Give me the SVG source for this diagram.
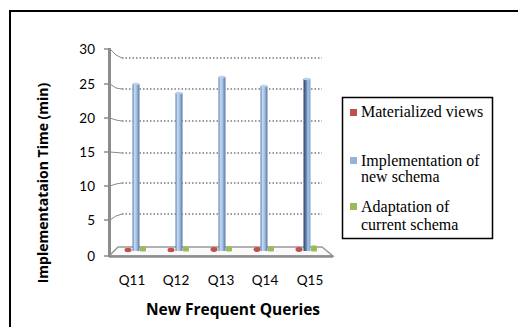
<svg xmlns="http://www.w3.org/2000/svg" width="518" height="327" viewBox="0 0 518 327">
<style>
.tick{font-family:Lato,"Open Sans",sans-serif;font-size:13.5px;fill:#000;text-anchor:end}
.cat{font-family:Lato,"Open Sans",sans-serif;font-size:13.5px;fill:#000;text-anchor:middle}
.title{font-family:"Open Sans",Lato,sans-serif;font-size:14px;font-weight:bold;fill:#000;text-anchor:middle}
.leg{font-family:"Liberation Serif","Times New Roman",serif;font-size:16px;fill:#000}
.grid{stroke:#7a7a7a;stroke-width:1.3;stroke-dasharray:1.5 2;fill:none}
.persp{stroke:#8a8a8a;stroke-width:1;fill:none}
</style>
<defs>
<linearGradient id="bar" x1="0" y1="0" x2="1" y2="0">
<stop offset="0" stop-color="#5f7fa8"/>
<stop offset="0.3" stop-color="#c6daf2"/>
<stop offset="0.6" stop-color="#9dbde6"/>
<stop offset="1" stop-color="#5a779f"/>
</linearGradient>
<linearGradient id="bar5" x1="0" y1="0" x2="1" y2="0">
<stop offset="0" stop-color="#2f4460"/>
<stop offset="0.35" stop-color="#5d7ca6"/>
<stop offset="0.65" stop-color="#a6c4ea"/>
<stop offset="1" stop-color="#7e9fca"/>
</linearGradient>
</defs>
<g id="frame">
<path d="M10,327 V11 H518" fill="none" stroke="#000" stroke-width="2"/>
</g>
<g id="grid">
<line class="grid" x1="122" y1="58" x2="322" y2="58"/>
<line class="grid" x1="122" y1="89" x2="322" y2="89"/>
<line class="grid" x1="122" y1="121" x2="322" y2="121"/>
<line class="grid" x1="122" y1="153" x2="322" y2="153"/>
<line class="grid" x1="122" y1="183" x2="322" y2="183"/>
<line class="grid" x1="122" y1="214" x2="322" y2="214"/>
<path class="persp" d="M110,49 L116,55 L122,58 M110,84 L116,88 L122,89 M110,118 L116,120 L122,121 M110,152 L122,153 M110,186 L116,184 L122,183 M110,220 L116,216 L122,214"/>
</g>
<g id="floor">
<polygon points="109,256 333,256 322,247 118,247" fill="#fafafa" stroke="#9a9a9a" stroke-width="1.5"/>
<line x1="109" y1="256.5" x2="333" y2="256.5" stroke="#8c8c8c" stroke-width="2.5"/>
</g>
<g id="axis">
<line x1="109.5" y1="48" x2="109.5" y2="257" stroke="#8c8c8c" stroke-width="3"/>
<g stroke="#8c8c8c" stroke-width="1.5">
<line x1="104" y1="49" x2="110" y2="49"/>
<line x1="104" y1="84" x2="110" y2="84"/>
<line x1="104" y1="118" x2="110" y2="118"/>
<line x1="104" y1="152" x2="110" y2="152"/>
<line x1="104" y1="186" x2="110" y2="186"/>
<line x1="104" y1="220" x2="110" y2="220"/>
<line x1="104" y1="256" x2="110" y2="256"/>
</g>
<text class="tick" x="95" y="54">30</text>
<text class="tick" x="95" y="89">25</text>
<text class="tick" x="95" y="123">20</text>
<text class="tick" x="95" y="157">15</text>
<text class="tick" x="95" y="191">10</text>
<text class="tick" x="95" y="225">5</text>
<text class="tick" x="95" y="261">0</text>
</g>
<g id="series-materialized" fill="#c0504d">
<ellipse cx="128" cy="250" rx="3.5" ry="2.2"/>
<ellipse cx="171" cy="250" rx="3.5" ry="2.2"/>
<ellipse cx="214" cy="249.5" rx="3.5" ry="2.4"/>
<ellipse cx="257" cy="249.5" rx="3.5" ry="2.4"/>
<ellipse cx="299" cy="249.5" rx="3.5" ry="2.4"/>
</g>
<g id="series-new-schema">
<rect x="132.5" y="84" width="7" height="167" fill="url(#bar)"/>
<ellipse cx="136" cy="84" rx="3.5" ry="1.2" fill="#b8d0ee"/>
<rect x="175.5" y="93" width="7" height="158" fill="url(#bar)"/>
<ellipse cx="179" cy="93" rx="3.5" ry="1.2" fill="#b8d0ee"/>
<rect x="218.5" y="77" width="7" height="174" fill="url(#bar)"/>
<ellipse cx="222" cy="77" rx="3.5" ry="1.2" fill="#b8d0ee"/>
<rect x="260.5" y="86" width="7" height="165" fill="url(#bar)"/>
<ellipse cx="264" cy="86" rx="3.5" ry="1.2" fill="#b8d0ee"/>
<rect x="303.5" y="79" width="7" height="172" fill="url(#bar5)"/>
<ellipse cx="307" cy="79" rx="3.5" ry="1.2" fill="#b8d0ee"/>
</g>
<g id="series-adaptation" fill="#9bbb59">
<rect x="140" y="246.5" width="6" height="5" rx="1"/>
<rect x="183" y="246.5" width="6" height="5" rx="1"/>
<rect x="226" y="246.5" width="6" height="5" rx="1"/>
<rect x="268" y="246.5" width="6" height="5" rx="1"/>
<rect x="311" y="245.5" width="6" height="6" rx="1"/>
</g>
<g id="categories">
<text class="cat" x="132" y="285">Q11</text>
<text class="cat" x="176" y="285">Q12</text>
<text class="cat" x="221" y="285">Q13</text>
<text class="cat" x="265" y="285">Q14</text>
<text class="cat" x="310" y="285">Q15</text>
</g>
<g id="axis-titles">
<text class="title" x="233" y="315" style="font-size:15.5px">New Frequent Queries</text>
<text class="title" transform="translate(48,183) rotate(-90)">Implementataion Time (min)</text>
</g>
<g id="legend">
<rect x="342.5" y="97.5" width="150" height="141" fill="#fff" stroke="#000" stroke-width="1.5"/>
<rect x="350" y="109" width="7" height="7" fill="#c0504d"/>
<text class="leg" x="361" y="117">Materialized views</text>
<rect x="350" y="157" width="7" height="7" fill="#95b3d7"/>
<text class="leg" x="361" y="166">Implementation of</text>
<text class="leg" x="361" y="182">new schema</text>
<rect x="350" y="203" width="7" height="7" fill="#9bbb59"/>
<text class="leg" x="361" y="212">Adaptation of</text>
<text class="leg" x="361" y="230">current schema</text>
</g>
</svg>
